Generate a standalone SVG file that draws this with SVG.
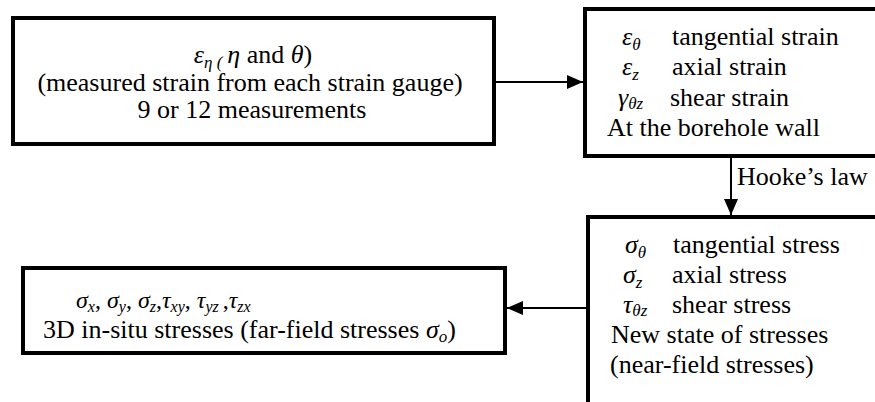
<svg xmlns="http://www.w3.org/2000/svg" width="875" height="402" viewBox="0 0 875 402">
  <style>
    .box { fill: #ffffff; stroke: #000000; stroke-width: 4; }
    .link { fill: none; stroke: #000000; stroke-width: 2; }
    .t { font-size: 26px; fill: #000000; }
    .it { font-style: italic; }
    .sub { font-size: 17px; font-style: italic; }
    .mid { text-anchor: middle; }
  </style>
  <defs>
    <marker id="arrow" markerWidth="16" markerHeight="14" refX="16" refY="7" orient="auto" markerUnits="userSpaceOnUse">
      <path d="M0,0 L16,7 L0,14 Z" fill="#000000"/>
    </marker>
  </defs>

  <g font-family="'Liberation Serif', Tinos, 'Times New Roman', 'DejaVu Serif', serif">
  <!-- connectors -->
  <g id="connectors">
    <line class="link" x1="495" y1="82" x2="583" y2="82" marker-end="url(#arrow)"/>
    <line class="link" x1="731" y1="157" x2="731" y2="215" marker-end="url(#arrow)"/>
    <text class="t" x="737" y="185">Hooke’s law</text>
    <line class="link" x1="588" y1="308" x2="507" y2="308" marker-end="url(#arrow)"/>
  </g>

  <!-- measured strains -->
  <g id="measured">
    <rect class="box" x="13" y="18" width="481" height="126"/>
    <text class="t mid" x="253" y="63"><tspan class="it">ε</tspan><tspan class="sub" dy="5">η (</tspan><tspan class="it" dy="-5" dx="5">η</tspan> and <tspan class="it">θ</tspan>)</text>
    <text class="t mid" x="250" y="91">(measured strain from each strain gauge)</text>
    <text class="t mid" x="252" y="118">9 or 12 measurements</text>
  </g>

  <!-- strains at the borehole wall -->
  <g id="wall-strains">
    <rect class="box" x="585" y="9" width="300" height="147"/>
    <text class="t" x="622" y="45"><tspan class="it">ε</tspan><tspan class="sub" dy="5">θ</tspan></text>
    <text class="t" x="672" y="45">tangential strain</text>
    <text class="t" x="622" y="75"><tspan class="it">ε</tspan><tspan class="sub" dy="5">z</tspan></text>
    <text class="t" x="672" y="75">axial strain</text>
    <text class="t" x="618" y="106"><tspan class="it">γ</tspan><tspan class="sub" dy="3">θz</tspan></text>
    <text class="t" x="670" y="106">shear strain</text>
    <text class="t" x="607" y="136">At the borehole wall</text>
  </g>

  <!-- near-field stresses -->
  <g id="near-field">
    <rect class="box" x="588" y="217" width="300" height="200"/>
    <text class="t" x="625" y="253"><tspan class="it">σ</tspan><tspan class="sub" dy="5">θ</tspan></text>
    <text class="t" x="673" y="253">tangential stress</text>
    <text class="t" x="623" y="283"><tspan class="it">σ</tspan><tspan class="sub" dy="5">z</tspan></text>
    <text class="t" x="672" y="283">axial stress</text>
    <text class="t" x="623" y="313"><tspan class="it">τ</tspan><tspan class="sub" dy="3">θz</tspan></text>
    <text class="t" x="672" y="313">shear stress</text>
    <text class="t" x="611" y="343">New state of stresses</text>
    <text class="t" x="610" y="373">(near-field stresses)</text>
  </g>

  <!-- far-field stresses -->
  <g id="far-field">
    <rect class="box" x="23" y="268" width="482" height="85"/>
    <text class="t" x="76" y="308" style="font-size:24px"><tspan class="it">σ</tspan><tspan class="sub" dy="4" style="font-size:16px">x</tspan><tspan dy="-4">, </tspan><tspan class="it">σ</tspan><tspan class="sub" dy="4" style="font-size:16px">y</tspan><tspan dy="-4">, </tspan><tspan class="it">σ</tspan><tspan class="sub" dy="4" style="font-size:16px">z</tspan><tspan dy="-4">,</tspan><tspan class="it">τ</tspan><tspan class="sub" dy="4" style="font-size:16px">xy</tspan><tspan dy="-4">, </tspan><tspan class="it">τ</tspan><tspan class="sub" dy="4" style="font-size:16px">yz </tspan><tspan dy="-4">,</tspan><tspan class="it">τ</tspan><tspan class="sub" dy="4" style="font-size:16px">zx</tspan></text>
    <text class="t" x="43" y="338">3D in-situ stresses (far-field stresses <tspan class="it">σ</tspan><tspan class="sub" dy="4">o</tspan><tspan dy="-4">)</tspan></text>
  </g>
  </g>
</svg>
